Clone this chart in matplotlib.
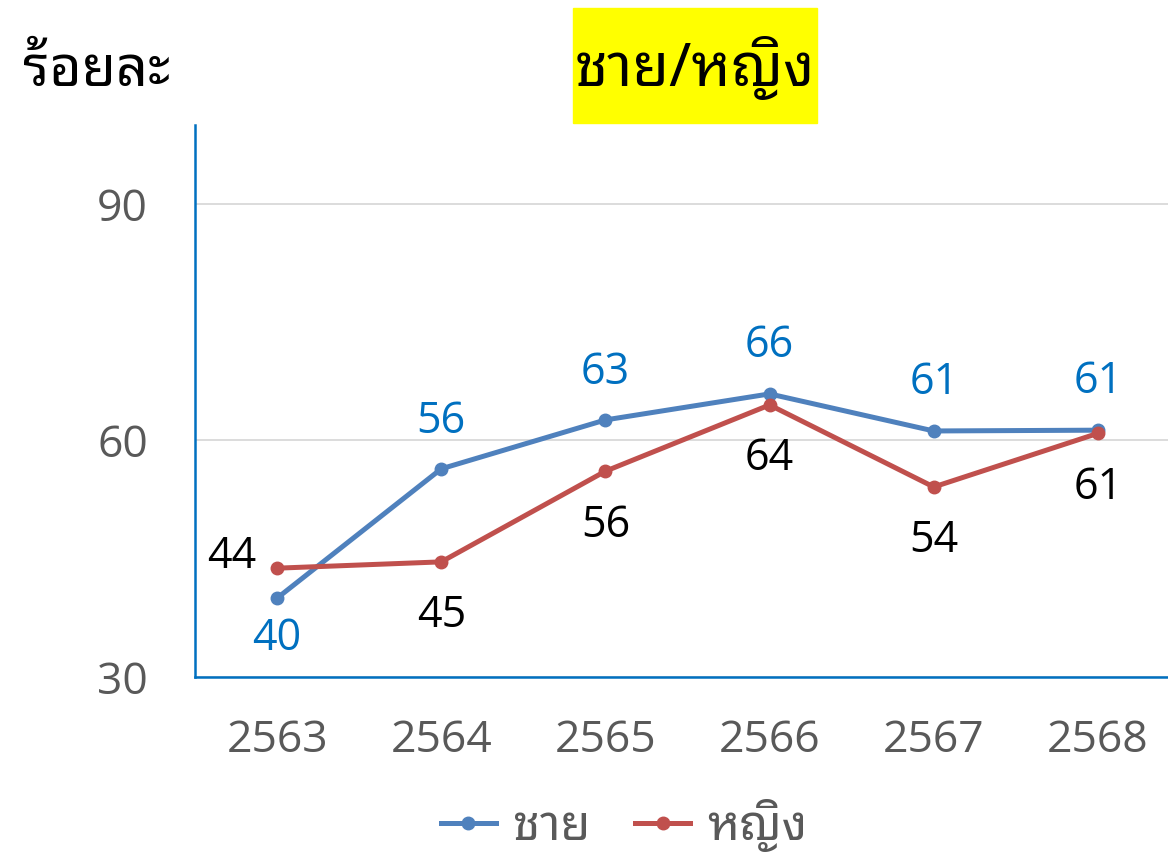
import matplotlib
matplotlib.use("Agg")
import matplotlib.pyplot as plt
from matplotlib import font_manager
from matplotlib.lines import Line2D

# ---------------- data ----------------
years = ["2563", "2564", "2565", "2566", "2567", "2568"]
male = [40.0, 56.4, 62.6, 65.9, 61.2, 61.3]
female = [43.8, 44.6, 56.1, 64.5, 54.1, 60.9]
male_labels = ["40", "56", "63", "66", "61", "61"]
female_labels = ["44", "45", "56", "64", "54", "61"]
yticks = [30, 60, 90]
series_names = ["ชาย", "หญิง"]
title_text = "ชาย/หญิง"
ylabel_text = "ร้อยละ"

# ---------------- find a Thai-capable font ----------------
def find_thai_family():
    try:
        from fontTools.ttLib import TTFont
    except Exception:
        return None
    cands = []
    for fe in font_manager.fontManager.ttflist:
        try:
            f = TTFont(fe.fname, fontNumber=0, lazy=True)
            cmap = f.getBestCmap()
            if cmap and ord("ช") in cmap and ord("ญ") in cmap:
                cands.append(fe.name)
        except Exception:
            continue
    if not cands:
        return None
    pref = ["Tahoma", "Leelawadee", "Noto Sans Thai", "Loma", "Garuda", "Sarabun", "Kinnari"]
    for p in pref:
        for c in cands:
            if p.lower() in c.lower():
                return c
    return cands[0]

thai = find_thai_family()
num_font = ["Open Sans", "DejaVu Sans"]
thai_font = ([thai] if thai else []) + ["DejaVu Sans"]

# ---------------- figure ----------------
fig = plt.figure(figsize=(11.68, 8.56), dpi=100)
ax = fig.add_axes([195 / 1168, (856 - 677) / 856, 973 / 1168, 552 / 856])

blue = "#4F81BD"
red = "#C0504D"
lblue = "#0070C0"

x = list(range(len(years)))
ax.plot(x, male, color=blue, lw=3.6, marker="o", ms=9, zorder=3, solid_capstyle="round")
ax.plot(x, female, color=red, lw=3.6, marker="o", ms=9, zorder=3, solid_capstyle="round")

ax.set_xlim(-0.5, (1168 - 278) / 164)
ax.set_ylim(30, 100)
ax.set_yticks(yticks)
ax.set_xticks(x)
ax.set_xticklabels(years)
ax.grid(axis="y", color="#D9D9D9", lw=1.3)
ax.set_axisbelow(True)
for s in ["top", "right"]:
    ax.spines[s].set_visible(False)
for s in ["left", "bottom"]:
    ax.spines[s].set_color(lblue)
    ax.spines[s].set_linewidth(1.8)
ax.tick_params(axis="both", length=0, labelsize=32, labelcolor="#595959")
ax.tick_params(axis="y", pad=34)
ax.tick_params(axis="x", pad=30)
for lab in ax.get_xticklabels() + ax.get_yticklabels():
    lab.set_family(num_font)

# data labels
male_off = [(0, -29), (0, 34), (0, 34), (0, 35), (0, 35), (0, 35)]
female_off = [(-33, 8), (0, -39), (0, -39), (0, -39), (0, -39), (0, -39)]
for i in x:
    ax.annotate(male_labels[i], (i, male[i]), xytext=male_off[i], textcoords="offset points",
                ha="center", va="center", fontsize=31, color=lblue, family=num_font)
    ax.annotate(female_labels[i], (i, female[i]), xytext=female_off[i], textcoords="offset points",
                ha="center", va="center", fontsize=31, color="black", family=num_font)

# title with yellow box
fig.patches.append(plt.Rectangle((573 / 1168, 1 - 123 / 856), (817 - 573) / 1168, (123 - 8) / 856,
                                 transform=fig.transFigure, color="#FFFF00", zorder=0))
fig.text(695 / 1168, 1 - 68 / 856, title_text, ha="center", va="center", fontsize=43,
         fontweight="bold", family=thai_font, color="black")
fig.text(97 / 1168, 1 - 72 / 856, ylabel_text, ha="center", va="center", fontsize=40,
         fontweight="bold", family=thai_font, color="black")

# legend
handles = [Line2D([0], [0], color=blue, lw=3.6, marker="o", ms=9),
           Line2D([0], [0], color=red, lw=3.6, marker="o", ms=9)]
leg = fig.legend(handles, series_names, loc="center", bbox_to_anchor=(624 / 1168, 1 - 826 / 856),
                 ncol=2, frameon=False, handlelength=1.15, columnspacing=0.9, handletextpad=0.35,
                 prop={"family": thai_font, "size": 35})
for t in leg.get_texts():
    t.set_color("#595959")

fig.savefig("out.png", dpi=100)
